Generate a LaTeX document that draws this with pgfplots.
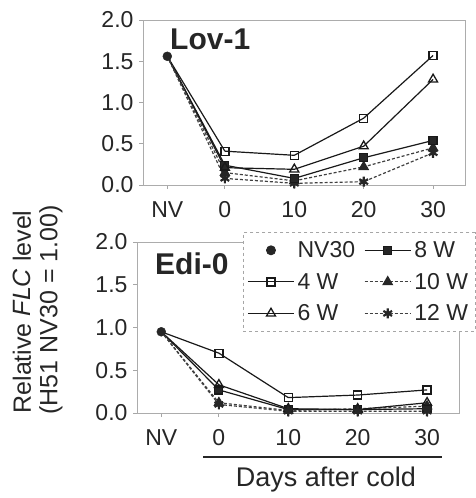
\documentclass[border=0pt]{standalone}
\usepackage{fontspec}
\setmainfont{Liberation Sans}
\usepackage{pgfplots}
\pgfplotsset{compat=1.18}

\pgfplotstableread{
x y4 y6 y8 y10 y12
0 0.41 0.21 0.24 0.15 0.08
10 0.36 0.19 0.08 0.05 0.02
20 0.81 0.47 0.33 0.22 0.04
30 1.57 1.28 0.54 0.45 0.39
}\lov
\pgfplotstableread{
x y4 y6 y8 y10 y12
0 0.70 0.33 0.27 0.12 0.10
10 0.18 0.05 0.04 0.03 0.02
20 0.21 0.04 0.04 0.05 0.02
30 0.27 0.12 0.05 0.08 0.02
}\edi

\begin{document}
\begin{tikzpicture}
\path (0pt,0pt) rectangle (472pt,498pt);
\pgfplotsset{
  panel/.style={
    scale only axis, width=322pt,
    xmin=-11.8, xmax=34.6, ymin=0, ymax=2,
    xtick={-8.3,0,10,20,30}, xticklabels={NV,0,10,20,30},
    ytick={0,0.5,1,1.5,2},
    /pgf/number format/.cd, fixed, fixed zerofill, precision=1, assume math mode=true, /pgfplots/.cd,
    ticklabel style={font=\fontsize{23}{26}\selectfont, text=black!85},
    xticklabel style={yshift=-9pt},
    yticklabel style={xshift=-2pt},
    axis line style={draw=gray!65, line width=0.9pt},
    tick style={draw=gray!70, line width=0.8pt},
    tick align=outside, major tick length=4pt, tick pos=left,
    clip=false,
    legend image code/.code={\draw[mark repeat=2,mark phase=2,##1] plot coordinates {(0pt,0pt) (23pt,0pt) (46pt,0pt)};},
  },
  base/.style={black!90, line width=1.2pt},
  sol/.style={base, solid},
  dsh/.style={base, black!75, dash pattern=on 3pt off 2pt},
  s4/.style={sol, mark=square, mark size=4pt, mark options={solid, fill=white, line width=1.3pt}},
  s6/.style={sol, mark=triangle, mark size=5.2pt, mark options={solid, fill=white, line width=1.3pt}},
  s8/.style={sol, mark=square*, mark size=4pt, mark options={solid, fill=black!85}},
  s10/.style={dsh, mark=triangle*, mark size=5.2pt, mark options={solid, fill=black!85, draw=black!85}},
  s12/.style={dsh, mark=asterisk, mark size=5pt, mark options={solid, line width=2.2pt, draw=black!85}},
  nv/.style={only marks, mark=*, mark size=4.5pt, mark options={fill=black!85, draw=black!85}},
}

% ---------- Top panel: Lov-1 ----------
\begin{axis}[panel, at={(143pt,313pt)}, anchor=south west, height=165pt]
\addplot[sol, forget plot] coordinates {(-8.3,1.56) (0,0.41)};
\addplot[sol, forget plot] coordinates {(-8.3,1.56) (0,0.21)};
\addplot[sol, forget plot] coordinates {(-8.3,1.56) (0,0.24)};
\addplot[dsh, forget plot] coordinates {(-8.3,1.56) (0,0.15)};
\addplot[dsh, forget plot] coordinates {(-8.3,1.56) (0,0.08)};
\addplot[nv] coordinates {(-8.3,1.56)};
\addplot[s12] table[x=x,y=y12] {\lov};
\addplot[s10] table[x=x,y=y10] {\lov};
\addplot[s8] table[x=x,y=y8] {\lov};
\addplot[s6] table[x=x,y=y6] {\lov};
\addplot[s4] table[x=x,y=y4] {\lov};
\end{axis}

% ---------- Bottom panel: Edi-0 ----------
\begin{axis}[panel, at={(137pt,85pt)}, anchor=south west, height=171pt,
  legend columns=2,
  legend cell align=left,
  legend style={at={(0.329,1.058)}, anchor=north west, draw=gray!70, dashed, line width=0.9pt,
    fill=white, font=\fontsize{23}{26}\selectfont, text=black!85,
    inner xsep=4pt, inner ysep=2pt,
    nodes={inner xsep=3pt, inner ysep=7pt},
    /tikz/every even column/.append style={column sep=6pt}},
]
\addplot[sol, forget plot] coordinates {(-8.3,0.95) (0,0.70)};
\addplot[sol, forget plot] coordinates {(-8.3,0.95) (0,0.33)};
\addplot[sol, forget plot] coordinates {(-8.3,0.95) (0,0.27)};
\addplot[dsh, forget plot] coordinates {(-8.3,0.95) (0,0.12)};
\addplot[dsh, forget plot] coordinates {(-8.3,0.95) (0,0.10)};
\addplot[nv] coordinates {(-8.3,0.95)};
\addlegendentry{NV30}
\addplot[s8] table[x=x,y=y8] {\edi};
\addlegendentry{8 W}
\addplot[s4] table[x=x,y=y4] {\edi};
\addlegendentry{4 W}
\addplot[s10] table[x=x,y=y10] {\edi};
\addlegendentry{10 W}
\addplot[s6] table[x=x,y=y6] {\edi};
\addlegendentry{6 W}
\addplot[s12] table[x=x,y=y12] {\edi};
\addlegendentry{12 W}
\end{axis}

% panel titles
\node[anchor=base west, font=\fontsize{30}{34}\selectfont\bfseries, text=black!85, inner sep=0] at (170pt,448pt) {Lov-1};
\node[anchor=base west, font=\fontsize{30}{34}\selectfont\bfseries, text=black!85, inner sep=0] at (155pt,223pt) {Edi-0};

% y label
\node[rotate=90, font=\fontsize{25}{28}\selectfont, text=black!85, inner sep=0] at (22pt,186pt) {Relative \textit{FLC} level};
\node[rotate=90, font=\fontsize{25}{28}\selectfont, text=black!85, inner sep=0] at (51pt,188pt) {(H51 NV30 = 1.00)};

% x label with bracket line
\draw[black!85, line width=1.1pt] (203pt,41pt) -- (442pt,41pt);
\node[font=\fontsize{27}{30}\selectfont, text=black!85, inner sep=0] at (326pt,18pt) {Days after cold};
\end{tikzpicture}
\end{document}
